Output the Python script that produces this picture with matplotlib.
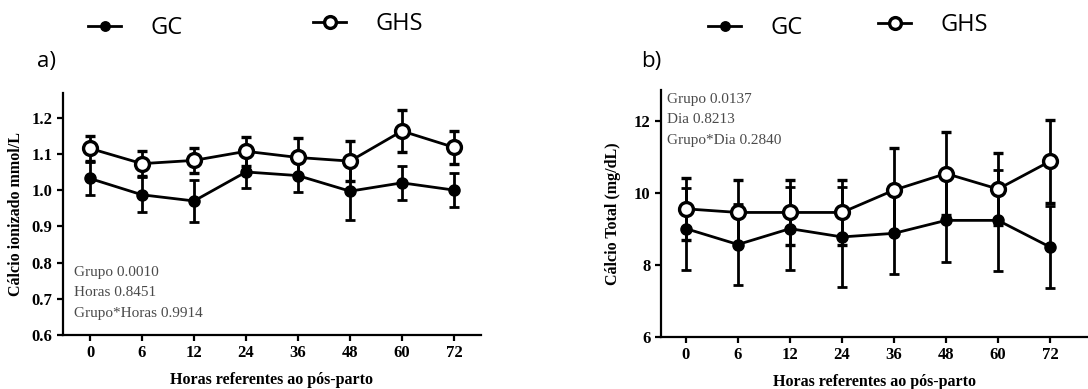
import numpy as np
import matplotlib
matplotlib.use("Agg")
import matplotlib.pyplot as plt

horas = ["0", "6", "12", "24", "36", "48", "60", "72"]

# a) ionised calcium, mmol/L
ion_gc = [1.032, 0.987, 0.970, 1.050, 1.040, 0.997, 1.020, 1.000]
ion_gc_err = [0.045, 0.048, 0.057, 0.045, 0.045, 0.080, 0.047, 0.046]
ion_ghs = [1.115, 1.073, 1.082, 1.107, 1.090, 1.080, 1.163, 1.118]
ion_ghs_err = [0.035, 0.035, 0.035, 0.040, 0.055, 0.055, 0.058, 0.045]

# b) total calcium, mg/dL
tot_gc = [9.00, 8.56, 9.00, 8.77, 8.87, 9.23, 9.23, 8.49]
tot_gc_err = [1.14, 1.12, 1.15, 1.40, 1.12, 1.15, 1.40, 1.15]
tot_ghs = [9.55, 9.45, 9.45, 9.45, 10.07, 10.53, 10.10, 10.87]
tot_ghs_err = [0.87, 0.90, 0.89, 0.90, 1.16, 1.14, 1.00, 1.16]

stats_a = ["Grupo 0.0010", "Horas 0.8451", "Grupo*Horas 0.9914"]
stats_b = ["Grupo 0.0137", "Dia 0.8213", "Grupo*Dia 0.2840"]

W, H = 1088, 389
fig = plt.figure(figsize=(W / 100, H / 100), dpi=100)

serif = "Liberation Serif"
sans = "Open Sans"


def panel(rect, gc, gc_err, ghs, ghs_err, ylim, yticks, xlim, ylabel, stats, stats_pos):
    ax = fig.add_axes(rect)
    x = np.arange(len(horas))
    ax.errorbar(x, gc, yerr=gc_err, color="black", lw=2, marker="o", ms=8,
                mfc="black", mec="black", elinewidth=2, capsize=3.5, capthick=2,
                zorder=3, label="GC")
    ax.errorbar(x, ghs, yerr=ghs_err, color="black", lw=2, marker="o", ms=10,
                mfc="white", mec="black", mew=2.4, elinewidth=2, capsize=3.5,
                capthick=2, zorder=4, label="GHS")
    ax.set_xlim(*xlim)
    ax.set_ylim(*ylim)
    ax.set_yticks(yticks)
    ax.set_xticks(x)
    ax.set_xticklabels(horas)
    for s in ["top", "right"]:
        ax.spines[s].set_visible(False)
    for s in ["left", "bottom"]:
        ax.spines[s].set_linewidth(1.6)
    ax.tick_params(width=1.6, length=4)
    for lab in ax.get_xticklabels() + ax.get_yticklabels():
        lab.set_fontfamily(serif)
        lab.set_fontweight("bold")
        lab.set_fontsize(12)
    ax.set_xlabel("Horas referentes ao pós-parto", fontfamily=serif,
                  fontweight="bold", fontsize=11.5, va="center")
    ax.set_ylabel(ylabel, fontfamily=serif, fontweight="bold", fontsize=11.5,
                  va="center")
    ax.xaxis.set_label_coords(0.5, -0.185)
    ax.yaxis.set_label_coords(-0.113, 0.5)
    x0, y0, dy = stats_pos
    for i, t in enumerate(stats):
        ax.text(x0, y0 - i * dy, t, transform=ax.transAxes, fontfamily=serif,
                fontsize=11, color="#4a4a4a", va="center", ha="left")
    return ax


def px(x0, y0, x1, y1):
    return [x0 / W, 1 - y1 / H, (x1 - x0) / W, (y1 - y0) / H]


ax1 = panel(px(63, 93, 481, 335), ion_gc, ion_gc_err, ion_ghs, ion_ghs_err,
            (0.6, 1.268), [0.6, 0.7, 0.8, 0.9, 1.0, 1.1, 1.2], (-0.52, 7.52),
            "Cálcio ionizado mmol/L", stats_a, (0.026, 0.26, 0.085))
ax2 = panel(px(661, 90, 1088, 336.7), tot_gc, tot_gc_err, tot_ghs, tot_ghs_err,
            (6, 12.85), [6, 8, 10, 12], (-0.48, 7.73),
            "Cálcio Total (mg/dL)", stats_b, (0.014, 0.963, 0.083))

h, l = ax1.get_legend_handles_labels()
h = [c[0] for c in h]
# one legend entry each, pinned where the reference puts it
spots = [(88, 28, 0), (313, 24, 1), (708, 28, 0), (878, 25, 1)]
for lx, ly, i in spots:
    fig.legend([h[i]], [l[i]], loc="center left",
               bbox_to_anchor=(lx / W, 1 - ly / H), frameon=False,
               prop={"family": sans, "size": 17}, borderpad=0, borderaxespad=0,
               handlelength=1.4, handletextpad=1.23, markerscale=0.85)

fig.text(37 / W, 1 - 62 / H, "a)", fontfamily=sans, fontsize=16, va="center")
fig.text(641 / W, 1 - 62 / H, "b)", fontfamily=sans, fontsize=16, va="center")

fig.savefig("out.png", dpi=100)
